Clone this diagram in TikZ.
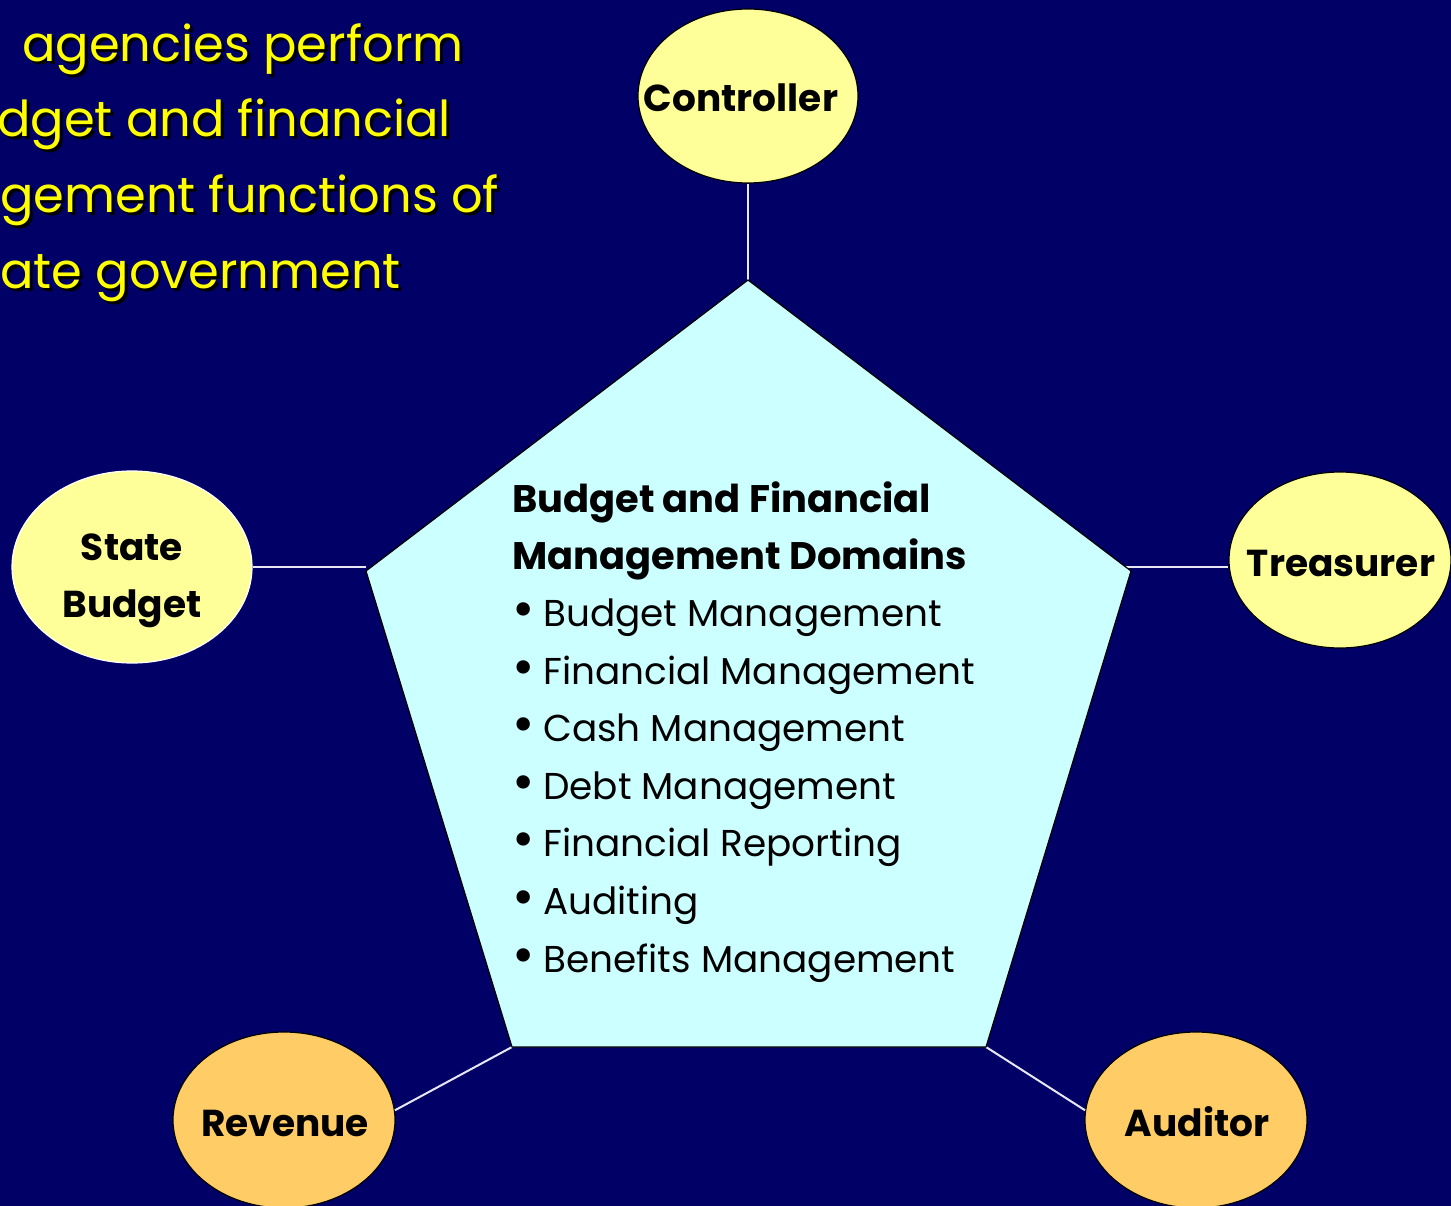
\documentclass[tikz,border=0pt]{standalone}
\usepackage{fontspec}
\setmainfont{Poppins}
\usetikzlibrary{shapes.geometric}
\definecolor{bgnavy}{HTML}{000066}
\definecolor{penta}{HTML}{CCFFFF}
\definecolor{lemon}{HTML}{FFFF99}
\definecolor{apricot}{HTML}{FFCC66}
\definecolor{titleyellow}{HTML}{FFFF00}
\definecolor{linkgray}{HTML}{E8E8F4}
\tikzset{
  agency/.style={ellipse, draw=black, line width=1.2pt, inner sep=0pt,
    minimum width=222pt, minimum height=176pt},
  agencytext/.style={anchor=base, inner sep=0pt, align=center,
    font=\fontsize{37.5}{57}\selectfont\bfseries},
  link/.style={draw=linkgray, line width=2pt},
  headline/.style={anchor=base west, inner sep=0pt, font=\fontsize{38.4}{40}\selectfont\bfseries},
  bulletline/.style={anchor=base west, inner sep=0pt, font=\fontsize{37.4}{40}\selectfont},
  titleline/.style={anchor=base west, inner sep=0pt, font=\fontsize{49.5}{50}\selectfont},
}
\newcommand{\bitem}[1]{\makebox[31pt][l]{\raisebox{-1pt}{\scalebox{1.45}{\textbullet}}}#1}
\newcommand{\shadowtext}[1]{\rlap{\kern3pt\raisebox{-3pt}{\color{black}#1}}{\color{titleyellow}#1}}
\begin{document}
\begin{tikzpicture}[x=1pt,y=-1pt]
\useasboundingbox (0,0) rectangle (1451,1206);
\clip (0,0) rectangle (1451,1206);
\fill[bgnavy] (0,0) rectangle (1451,1206);

% title text (clipped at left edge) with drop shadow
\node[titleline] (t1) at (22,62) {\shadowtext{agencies perform}};
\node[titleline] (t2) at (-3,137) {\shadowtext{dget and financial}};
\node[titleline] (t3) at (0,213) {\shadowtext{gement functions of}};
\node[titleline] (t4) at (0,289) {\shadowtext{ate government}};

% pentagon corners
\coordinate (ptop) at (748,280);
\coordinate (pright) at (1131,571);
\coordinate (pbr) at (986,1047);
\coordinate (pbl) at (512,1047);
\coordinate (pleft) at (366,571);

% agencies
\node[agency, fill=lemon, minimum width=220pt, minimum height=174pt] (ctrl) at (748,96) {};
\node[agency, fill=lemon, draw=white, minimum width=240pt, minimum height=192pt] (sb) at (132,567) {};
\node[agency, fill=lemon] (tre) at (1340,560) {};
\node[agency, fill=apricot] (rev) at (284,1120) {};
\node[agency, fill=apricot] (aud) at (1196,1120) {};

\node[agencytext] (ctrlt) at (741,112) {Controller};
\node[agencytext] (sbt1) at (132,560) {State};
\node[agencytext] (sbt2) at (132,617) {Budget};
\node[agencytext] (tret) at (1341,576) {Treasurer};
\node[agencytext] (revt) at (285,1136) {Revenue};
\node[agencytext] (audt) at (1197,1136) {Auditor};

% connectors
\draw[link] (ctrl.south) -- (ptop);
\draw[link] (sb.east |- 0,567) -- (pleft |- 0,567);
\draw[link] (1116,567) coordinate (trs) -- (tre.west |- trs);
\draw[link] (rev.5) -- (pbl);
\draw[link] (aud.175) -- (pbr);

% pentagon
\fill[penta, draw=black, line width=1.2pt] (ptop) -- (pright) -- (pbr) -- (pbl) -- (pleft) -- cycle;

% domains text
\node[headline] (h1) at (512,512) {Budget and Financial};
\node[headline] (h2) at (512,569) {Management Domains};
\node[bulletline] (b1) at (512,626) {\bitem{Budget Management}};
\node[bulletline] (b2) at (512,684) {\bitem{Financial Management}};
\node[bulletline] (b3) at (512,741) {\bitem{Cash Management}};
\node[bulletline] (b4) at (512,799) {\bitem{Debt Management}};
\node[bulletline] (b5) at (512,856) {\bitem{Financial Reporting}};
\node[bulletline] (b6) at (512,914) {\bitem{Auditing}};
\node[bulletline] (b7) at (512,972) {\bitem{Benefits Management}};
\end{tikzpicture}
\end{document}
